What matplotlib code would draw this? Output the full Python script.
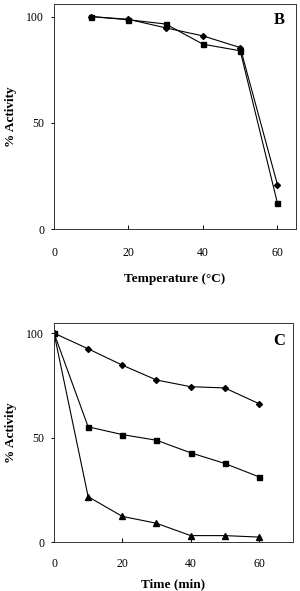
import numpy as np
import matplotlib.pyplot as plt

# panel B: temperature stability
temp = [10, 20, 30, 40, 50, 60]
temp_diamond = [100, 98.7, 94.7, 90.9, 85.4, 20.8]
temp_square = [100, 98.5, 96.5, 87.0, 83.9, 12.1]

# panel C: time course
time_min = [0, 10, 20, 30, 40, 50, 60]
time_diamond = [100, 92.5, 84.7, 77.6, 74.4, 73.8, 66.3]
time_square = [100, 55.2, 51.5, 48.8, 42.8, 37.7, 31.3]
time_triangle = [100, 21.8, 12.4, 9.1, 3.2, 3.2, 2.5]

plt.rcParams['font.family'] = ['Liberation Serif', 'DejaVu Serif']

fig = plt.figure(figsize=(3.0, 5.91), dpi=100)
ax1 = fig.add_axes([0.18, 0.6125, 0.807, 0.381])
ax2 = fig.add_axes([0.18, 0.0824, 0.797, 0.3716])

lw = 0.8
ax1.plot(temp, temp_diamond, '-', color='black', lw=lw, marker='D', ms=3.0)
ax1.plot(temp, temp_square, '-', color='black', lw=lw, marker='s', ms=3.6)
ax1.set_xlim(0, 65)
ax1.set_ylim(0, 106)
ax1.set_xlabel('Temperature (°C)', fontsize=9.5, fontweight='bold', labelpad=10)
ax1.text(0.93, 0.965, 'B', transform=ax1.transAxes, fontsize=12, fontweight='bold',
         ha='center', va='top')

ax2.plot(time_min, time_diamond, '-', color='black', lw=lw, marker='D', ms=3.0)
ax2.plot(time_min, time_square, '-', color='black', lw=lw, marker='s', ms=3.6)
ax2.plot(time_min, time_triangle, '-', color='black', lw=lw, marker='^', ms=3.8)
ax2.set_xlim(0, 70)
ax2.set_ylim(0, 105)
ax2.set_xlabel('Time (min)', fontsize=9.5, fontweight='bold', labelpad=6)
ax2.text(0.94, 0.955, 'C', transform=ax2.transAxes, fontsize=12, fontweight='bold',
         ha='center', va='top')

for ax in (ax1, ax2):
    ax.set_xticks([0, 20, 40, 60])
    ax.set_yticks([0, 50, 100])
    ax.set_ylabel('% Activity', fontsize=9.5, fontweight='bold', labelpad=7)
    ax.tick_params(axis='y', direction='out', length=2, width=0.7, labelsize=8.5, pad=5)
    for s in ax.spines.values():
        s.set_linewidth(0.7)
        s.set_color('#333333')
ax1.tick_params(axis='x', direction='in', length=3, width=0.7, labelsize=8.5, pad=13)
ax2.tick_params(axis='x', direction='in', length=3, width=0.7, labelsize=8.5, pad=11)

fig.savefig('out.png', dpi=100)
